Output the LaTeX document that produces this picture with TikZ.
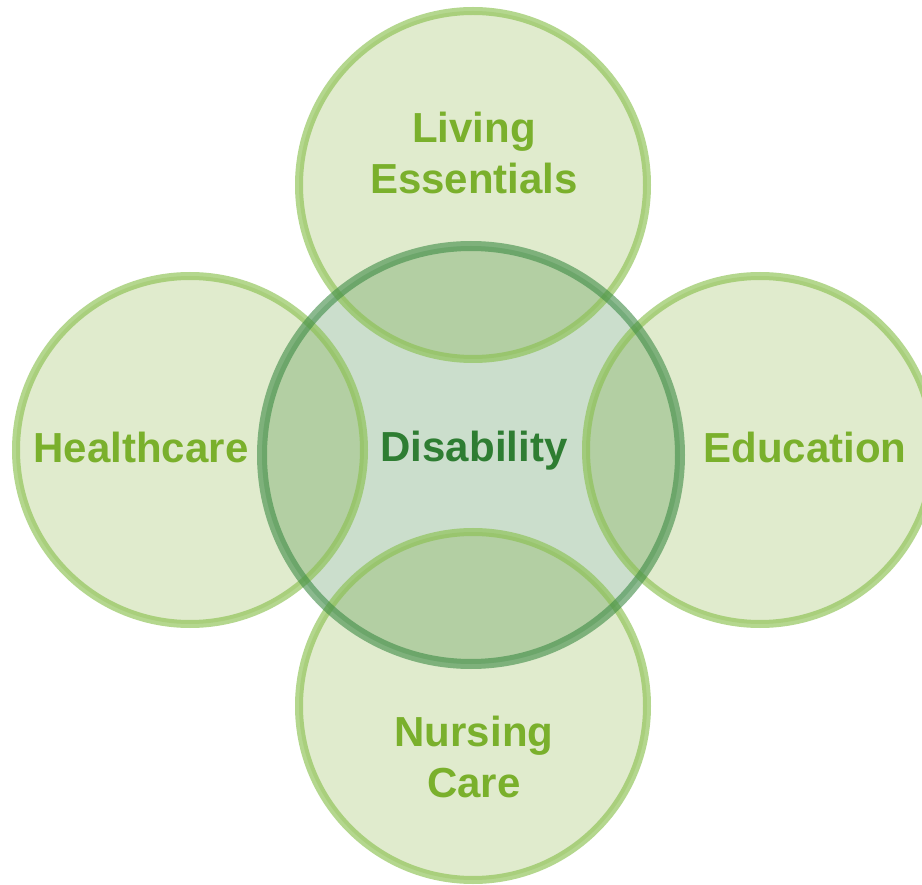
\documentclass[tikz,border=0pt]{standalone}
\usepackage{fontspec}
\setmainfont{Liberation Sans}
\begin{document}
\definecolor{ringfill}{HTML}{E0EBCD}
\definecolor{hubfill}{HTML}{CBDECC}
\definecolor{overlapfill}{HTML}{B3CFA3}
\definecolor{ringline}{HTML}{8CC152}
\definecolor{hubline}{HTML}{3D8B45}
\definecolor{ringtext}{HTML}{7AB02C}
\definecolor{hubtext}{HTML}{2E7D32}
\begin{tikzpicture}[x=1pt, y=-1pt,
  labeltext/.style={font=\bfseries\fontsize{42}{51}\selectfont, align=center, inner sep=0pt, anchor=base},
  ringedge/.style={draw=ringline, draw opacity=0.65, line width=8pt},
  hubedge/.style={draw=hubline, draw opacity=0.6, line width=10pt}]
\useasboundingbox (0,0) rectangle (922,885);
% circle centres
\coordinate (top) at (473,185);
\coordinate (left) at (190,450);
\coordinate (right) at (760,450);
\coordinate (bottom) at (473,706);
\coordinate (hub) at (471,455);
\def\ringr{174}
\def\hubr{209}
% light fills of the four outer circles
\foreach \c in {top,left,right,bottom}
  \fill[ringfill] (\c) circle (\ringr);
% centre circle fill
\fill[hubfill] (hub) circle (\hubr);
% overlaps of the outer circles with the centre circle
\begin{scope}
  \clip (hub) circle (\hubr);
  \foreach \c in {top,left,right,bottom}
    \fill[overlapfill] (\c) circle (\ringr);
\end{scope}
% outlines
\foreach \c in {top,left,right,bottom}
  \path[ringedge] (\c) circle (\ringr);
\path[hubedge] (hub) circle (\hubr);
% labels (two-line labels are placed by the baseline of their last line)
\node[labeltext, text=ringtext] (livingtxt) at (474,194) {Living\\Essentials};
\node[labeltext, text=ringtext] (healthtxt) at (141,463) {Healthcare};
\node[labeltext, text=ringtext] (edutxt) at (805,463) {Education};
\node[labeltext, text=ringtext] (nursetxt) at (474,797) {Nursing\\Care};
\node[labeltext, text=hubtext] (hubtxt) at (474,462) {Disability};
\end{tikzpicture}
\end{document}
